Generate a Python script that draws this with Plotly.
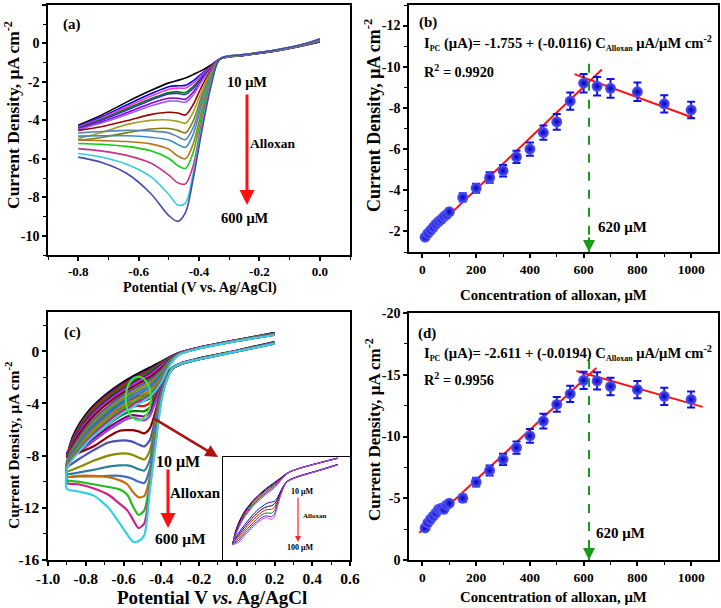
import plotly.graph_objects as go

W, H = 721, 608
def PX(x): return x / W
def PY(y): return 1 - y / H

FONT = "Liberation Serif"

# ---------------- Panel (a) data: cathodic sweeps ----------------
pot_a = [-0.80, -0.72, -0.64, -0.56, -0.50, -0.47, -0.445, -0.42, -0.39, -0.36, -0.33, -0.25, -0.15, -0.05, 0.00]
curves_a = [
    [-4.25, -3.70, -3.05, -2.45, -2.05, -1.92, -1.80, -1.62, -1.40, -1.12, -0.80, -0.62, -0.40, -0.10, 0.08],
    [-4.30, -3.80, -3.20, -2.62, -2.25, -2.20, -2.18, -1.95, -1.55, -1.18, -0.80, -0.61, -0.40, -0.09, 0.10],
    [-4.33, -3.86, -3.30, -2.75, -2.38, -2.32, -2.32, -2.08, -1.62, -1.20, -0.80, -0.61, -0.39, -0.09, 0.11],
    [-4.38, -3.93, -3.40, -2.88, -2.55, -2.52, -2.55, -2.25, -1.72, -1.24, -0.80, -0.61, -0.39, -0.08, 0.12],
    [-4.40, -3.98, -3.47, -2.95, -2.62, -2.60, -2.65, -2.35, -1.78, -1.26, -0.80, -0.61, -0.39, -0.08, 0.13],
    [-4.45, -4.06, -3.60, -3.12, -2.85, -2.85, -2.90, -2.55, -1.88, -1.30, -0.80, -0.60, -0.39, -0.07, 0.14],
    [-4.48, -4.12, -3.70, -3.25, -3.00, -3.00, -3.05, -2.70, -1.95, -1.33, -0.80, -0.60, -0.38, -0.07, 0.15],
    [-4.52, -4.32, -4.02, -3.70, -3.58, -3.62, -3.72, -3.20, -2.20, -1.40, -0.80, -0.60, -0.38, -0.06, 0.16],
    [-4.95, -4.62, -4.22, -4.00, -3.98, -4.05, -4.15, -3.60, -2.45, -1.48, -0.80, -0.60, -0.38, -0.06, 0.17],
    [-5.05, -4.88, -4.65, -4.45, -4.42, -4.52, -4.65, -4.05, -2.70, -1.55, -0.80, -0.59, -0.37, -0.05, 0.18],
    [-4.65, -4.58, -4.52, -4.55, -4.65, -4.85, -5.00, -4.40, -2.90, -1.60, -0.80, -0.59, -0.37, -0.05, 0.19],
    [-4.82, -4.80, -4.80, -4.88, -5.02, -5.25, -5.40, -4.75, -3.10, -1.68, -0.80, -0.59, -0.37, -0.04, 0.20],
    [-5.02, -5.05, -5.10, -5.22, -5.50, -5.85, -6.00, -5.25, -3.40, -1.78, -0.80, -0.58, -0.36, -0.04, 0.21],
    [-5.20, -5.25, -5.35, -5.58, -5.98, -6.35, -6.50, -5.70, -3.65, -1.88, -0.80, -0.58, -0.36, -0.03, 0.22],
    [-5.47, -5.60, -5.82, -6.22, -6.85, -7.25, -7.30, -6.40, -4.00, -2.00, -0.80, -0.58, -0.36, -0.03, 0.23],
    [-5.72, -5.92, -6.28, -6.92, -7.85, -8.40, -8.30, -6.80, -4.30, -2.10, -0.80, -0.58, -0.35, -0.02, 0.24],
    [-5.91, -6.20, -6.75, -7.80, -8.95, -9.25, -8.80, -7.10, -4.50, -2.22, -0.80, -0.58, -0.35, -0.02, 0.25],
]
colors_a = ["#000000", "#0000ff", "#ff33cc", "#008000", "#3333cc", "#8800cc", "#a060ff",
            "#990000", "#a0a020", "#7f7f10", "#5a86b4", "#3a8fbf", "#b8741a", "#11cc11",
            "#cc3388", "#33ccdd", "#4848a8"]

# ---------------- Panel (b) / (d) data ----------------
conc = [10, 20, 30, 40, 50, 60, 70, 80, 90, 100, 150, 200, 250, 300, 350, 400, 450, 500, 550, 600, 650, 700, 800, 900, 1000]
cd_b = [-1.72, -1.90, -2.05, -2.20, -2.35, -2.48, -2.58, -2.72, -2.82, -2.95, -3.65, -4.10, -4.62, -4.95, -5.62, -6.00,
        -6.80, -7.32, -8.33, -9.20, -9.05, -8.95, -8.78, -8.20, -7.90]
err_b = [0.12, 0.12, 0.12, 0.12, 0.12, 0.12, 0.12, 0.12, 0.12, 0.15, 0.20, 0.22, 0.25, 0.28, 0.30, 0.32,
         0.35, 0.38, 0.42, 0.45, 0.45, 0.45, 0.45, 0.42, 0.40]
fit1_b_x = [5, 668]
fit1_b_y = [-1.62, -9.87]
fit2_b_x = [566, 1012]
fit2_b_y = [-9.64, -7.50]

cd_d = [-2.60, -3.00, -3.30, -3.55, -3.80, -4.10, -4.20, -4.10, -4.45, -4.60, -5.00, -6.30, -7.25, -8.15, -9.10, -10.05,
        -11.25, -12.60, -13.45, -14.55, -14.50, -14.05, -13.80, -13.25, -13.00]
err_d = [0.20, 0.20, 0.20, 0.20, 0.20, 0.20, 0.20, 0.20, 0.20, 0.25, 0.30, 0.35, 0.40, 0.45, 0.50, 0.55,
         0.60, 0.60, 0.65, 0.70, 0.70, 0.70, 0.70, 0.70, 0.65]
fit1_d_x = [-12, 647]
fit1_d_y = [-2.20, -15.55]
fit2_d_x = [573, 1043]
fit2_d_y = [-15.30, -12.40]

break_conc = 620
guide_b_y = [-10.15, -1.0]
guide_d_y = [-16.2, 0.0]

# ---------------- Panel (c) data: full CVs ----------------
pot_c_down = [0.20, 0.00, -0.20, -0.30, -0.34, -0.37, -0.40, -0.43, -0.46, -0.49, -0.52, -0.55, -0.58, -0.62, -0.68, -0.76, -0.84, -0.90]
pot_c_up = [-0.897, -0.87, -0.83, -0.78, -0.70, -0.62, -0.54, -0.46, -0.40, -0.35, -0.30, -0.20, 0.00, 0.20]
down_c = [
    [0.70, 0.05, -0.55, -0.95, -1.25, -1.70, -2.30, -2.90, -3.30, -3.40, -3.45, -3.60, -3.80, -4.10, -4.70, -5.70, -6.80, -7.80],
    [0.68, 0.03, -0.57, -0.97, -1.27, -1.75, -2.40, -3.10, -3.60, -3.80, -3.85, -3.95, -4.10, -4.40, -5.00, -5.95, -7.00, -7.85],
    [0.66, 0.02, -0.58, -0.98, -1.28, -1.80, -2.50, -3.30, -3.95, -4.20, -4.20, -4.25, -4.40, -4.70, -5.30, -6.20, -7.20, -7.90],
    [0.65, 0.01, -0.60, -1.00, -1.30, -1.85, -2.60, -3.50, -4.30, -4.60, -4.60, -4.60, -4.70, -5.00, -5.60, -6.45, -7.40, -7.95],
    [0.64, 0.00, -0.60, -1.00, -1.32, -1.90, -2.70, -3.70, -4.65, -5.00, -4.95, -4.90, -5.00, -5.30, -5.85, -6.70, -7.60, -8.00],
    [0.63, 0.00, -0.61, -1.01, -1.33, -1.95, -2.80, -3.90, -4.95, -5.30, -5.20, -5.10, -5.20, -5.50, -6.05, -6.90, -7.80, -8.05],
    [0.62, -0.01, -0.62, -1.02, -1.35, -2.00, -3.00, -4.60, -5.90, -6.30, -6.15, -6.05, -6.05, -6.10, -6.55, -7.30, -7.80, -8.10],
    [0.61, -0.01, -0.62, -1.02, -1.35, -2.00, -3.10, -5.00, -6.80, -7.30, -7.15, -6.95, -6.85, -6.85, -7.00, -7.60, -8.30, -8.85],
    [0.60, -0.02, -0.62, -1.00, -1.33, -2.05, -3.20, -5.40, -7.60, -8.30, -8.15, -7.95, -7.85, -7.85, -8.00, -8.40, -8.90, -9.20],
    [0.60, -0.02, -0.62, -1.00, -1.32, -2.05, -3.30, -5.70, -8.30, -9.15, -9.05, -8.85, -8.75, -8.75, -8.85, -9.10, -9.30, -9.40],
    [0.60, -0.02, -0.62, -0.99, -1.31, -2.10, -3.40, -6.00, -9.00, -10.10, -10.00, -9.80, -9.65, -9.55, -9.55, -9.60, -9.60, -9.60],
    [0.59, -0.02, -0.62, -0.99, -1.30, -2.10, -3.50, -6.30, -9.60, -11.10, -11.20, -10.80, -10.20, -9.90, -9.65, -9.55, -9.55, -9.62],
    [0.59, -0.02, -0.62, -0.99, -1.30, -2.15, -3.60, -6.60, -10.00, -12.20, -12.55, -11.90, -11.00, -10.60, -10.40, -10.20, -10.00, -9.87],
    [0.58, -0.02, -0.62, -0.98, -1.30, -2.15, -3.70, -6.90, -10.30, -13.20, -13.55, -12.90, -12.20, -11.70, -11.00, -10.50, -10.20, -10.10],
    [0.58, -0.02, -0.62, -0.98, -1.30, -2.20, -3.90, -7.20, -10.60, -14.10, -14.55, -14.60, -14.05, -13.20, -12.00, -11.05, -10.75, -10.55],
]
up_c = [
    [-7.80, -6.60, -5.50, -4.50, -3.40, -2.55, -1.85, -1.25, -0.80, -0.40, -0.10, 0.28, 0.85, 1.40],
    [-7.85, -6.70, -5.60, -4.60, -3.50, -2.65, -1.95, -1.35, -0.85, -0.42, -0.10, 0.28, 0.85, 1.38],
    [-7.90, -6.80, -5.70, -4.70, -3.60, -2.75, -2.05, -1.45, -0.90, -0.45, -0.12, 0.26, 0.83, 1.36],
    [-7.95, -6.90, -5.80, -4.85, -3.75, -2.90, -2.20, -1.55, -0.95, -0.47, -0.12, 0.26, 0.83, 1.35],
    [-8.00, -7.00, -5.95, -5.00, -3.90, -3.05, -2.35, -1.70, -1.05, -0.50, -0.13, 0.25, 0.82, 1.34],
    [-8.05, -7.10, -6.10, -5.15, -4.05, -3.20, -2.50, -1.85, -1.15, -0.52, -0.14, 0.25, 0.82, 1.33],
    [-8.10, -7.20, -6.25, -5.30, -4.20, -3.35, -2.65, -2.00, -1.30, -0.55, -0.15, 0.24, 0.81, 1.32],
    [-8.30, -7.40, -6.50, -5.55, -4.45, -3.55, -2.85, -2.20, -1.45, -0.60, -0.16, 0.24, 0.81, 1.31],
    [-8.40, -7.55, -6.70, -5.75, -4.65, -3.75, -3.05, -2.40, -1.60, -0.65, -0.17, 0.23, 0.80, 1.30],
    [-8.50, -7.70, -6.90, -5.95, -4.85, -3.95, -3.25, -2.60, -1.75, -0.70, -0.18, 0.23, 0.80, 1.29],
    [-8.60, -7.85, -7.05, -6.15, -5.05, -4.15, -3.45, -2.80, -1.90, -0.75, -0.19, 0.22, 0.79, 1.28],
    [-8.70, -8.00, -7.20, -6.30, -5.25, -4.35, -3.65, -3.00, -2.05, -0.80, -0.20, 0.22, 0.79, 1.27],
    [-8.80, -8.10, -7.35, -6.50, -5.45, -4.55, -3.85, -3.20, -2.20, -0.85, -0.20, 0.21, 0.78, 1.26],
    [-8.85, -8.20, -7.50, -6.65, -5.60, -4.70, -4.00, -3.35, -2.30, -0.90, -0.21, 0.21, 0.78, 1.25],
    [-8.90, -8.30, -7.60, -6.80, -5.80, -4.90, -4.20, -3.50, -2.40, -0.95, -0.22, 0.20, 0.77, 1.24],
]
colors_c = ["#000000", "#1a1a80", "#e01010", "#008000", "#800080", "#9a40e0",
            "#8b0000", "#4b50b0", "#8a8a00", "#2a7f9f", "#3f6fbf", "#c07010", "#22bb22", "#cc2288", "#33d0e0"]
inset_idx = [0, 1, 2, 3, 4, 5]  # 10-100 uM curves shown in the inset
inset_colors = ["#0000ff", "#000000", "#ff0000", "#008000", "#8000c0", "#b050ff"]

# ---------------- tick labels ----------------
a_xt = [-0.8, -0.6, -0.4, -0.2, 0.0]; a_xl = ["-0.8", "-0.6", "-0.4", "-0.2", "0.0"]
a_xm = [-0.9, -0.7, -0.5, -0.3, -0.1, 0.1]
a_yt = [2, 0, -2, -4, -6, -8, -10]; a_yl = ["2", "0", "-2", "-4", "-6", "-8", "-10"]
a_ym = [1, -1, -3, -5, -7, -9, -11]
b_xt = [0, 200, 400, 600, 800, 1000]; b_xl = ["0", "200", "400", "600", "800", "1000"]
b_xm = [100, 300, 500, 700, 900]
b_yt = [-12, -10, -8, -6, -4, -2]; b_yl = ["-12", "-10", "-8", "-6", "-4", "-2"]
b_ym = [-13, -11, -9, -7, -5, -3, -1]
c_xt = [-1.0, -0.8, -0.6, -0.4, -0.2, 0.0, 0.2, 0.4, 0.6]
c_xl = ["-1.0", "-0.8", "-0.6", "-0.4", "-0.2", "0.0", "0.2", "0.4", "0.6"]
c_xm = [-0.9, -0.7, -0.5, -0.3, -0.1, 0.1, 0.3, 0.5]
c_yt = [0, -4, -8, -12, -16]; c_yl = ["0", "-4", "-8", "-12", "-16"]
c_ym = [2, -2, -6, -10, -14]
d_yt = [0, -5, -10, -15, -20]; d_yl = ["0", "-5", "-10", "-15", "-20"]
d_ym = [-2.5, -7.5, -12.5, -17.5]

fig = go.Figure()

# panel a
for ys, col in zip(curves_a, colors_a):
    fig.add_trace(go.Scatter(x=pot_a, y=ys, mode="lines", line=dict(color=col, width=1.6, shape="spline", smoothing=0.9),
                             xaxis="x", yaxis="y", hoverinfo="skip"))

# panel c
for dn, up, col in zip(down_c, up_c, colors_c):
    fig.add_trace(go.Scatter(x=pot_c_down + pot_c_up, y=dn + up, mode="lines",
                             line=dict(color=col, width=2.2, shape="spline", smoothing=0.7),
                             xaxis="x3", yaxis="y3", hoverinfo="skip"))

# inset
for i, col in zip(inset_idx, inset_colors):
    fig.add_trace(go.Scatter(x=pot_c_down + pot_c_up, y=down_c[i] + up_c[i], mode="lines",
                             line=dict(color=col, width=1.0, shape="spline", smoothing=0.7),
                             xaxis="x5", yaxis="y5", hoverinfo="skip"))

def calib(xa, ya, ys, errs, f1x, f1y, f2x, f2y):
    fig.add_trace(go.Scatter(x=f1x, y=f1y, mode="lines", line=dict(color="#ff1010", width=2), xaxis=xa, yaxis=ya))
    fig.add_trace(go.Scatter(x=f2x, y=f2y, mode="lines", line=dict(color="#ff1010", width=2), xaxis=xa, yaxis=ya))
    fig.add_trace(go.Scatter(x=conc, y=ys, mode="markers", xaxis=xa, yaxis=ya,
                             error_y=dict(type="data", array=errs, color="#1010e0", thickness=2, width=4),
                             marker=dict(size=11, color="#5a5aff",
                                         gradient=dict(type="radial", color="#0000b4"),
                                         line=dict(width=0))))

calib("x2", "y2", cd_b, err_b, fit1_b_x, fit1_b_y, fit2_b_x, fit2_b_y)
calib("x4", "y4", cd_d, err_d, fit1_d_x, fit1_d_y, fit2_d_x, fit2_d_y)

# green dashed guide lines
for xa, ya, gy in (("x2", "y2", guide_b_y), ("x4", "y4", guide_d_y)):
    fig.add_trace(go.Scatter(x=[break_conc, break_conc], y=gy, mode="lines",
                             line=dict(color="#1a9a1a", width=2, dash="dash"), xaxis=xa, yaxis=ya))

def ax(domain, rng, tv, tt, mv, anchor, tsize=14):
    return dict(domain=domain, range=rng, anchor=anchor,
                tickmode="array", tickvals=tv, ticktext=tt,
                ticks="outside", ticklen=4, tickwidth=1.5, tickcolor="black",
                showline=True, linewidth=1.5, linecolor="black", mirror=True,
                showgrid=False, zeroline=False, automargin=False,
                tickfont=dict(family=FONT, size=tsize, color="black", weight="bold"),
                minor=dict(tickmode="array", tickvals=mv, ticks="outside", ticklen=3, tickwidth=1.2,
                           tickcolor="black", showgrid=False))

xa_dom = [PX(48), PX(350)]
xb_dom = [PX(409), PX(718)]

layout = dict(
    width=W, height=H, margin=dict(l=0, r=0, t=0, b=0),
    paper_bgcolor="white", plot_bgcolor="white", showlegend=False,
    xaxis=ax(xa_dom, [-0.9, 0.1], a_xt, a_xl, a_xm, "y", 13),
    yaxis=ax([PY(255), PY(5)], [-11, 2], a_yt, a_yl, a_ym, "x", 14),
    xaxis2=ax(xb_dom, [-50, 1100], b_xt, b_xl, b_xm, "y2", 13.5),
    yaxis2=ax([PY(252), PY(5)], [-1, -13], b_yt, b_yl, b_ym, "x2", 14),
    xaxis3=ax(xa_dom, [-1.0, 0.6], c_xt, c_xl, c_xm, "y3", 15.5),
    yaxis3=ax([PY(560), PY(312)], [-16, 3], c_yt, c_yl, c_ym, "x3", 15.5),
    xaxis4=ax(xb_dom, [-50, 1100], b_xt, b_xl, b_xm, "y4", 13.5),
    yaxis4=ax([PY(560), PY(313)], [0, -20], d_yt, d_yl, d_ym, "x4", 14),
    xaxis5=dict(domain=[PX(223), PX(350)], range=[-1.0, 0.33], anchor="y5", showticklabels=False, ticks="",
                showline=True, linewidth=1.2, linecolor="black", mirror=True, showgrid=False, zeroline=False),
    yaxis5=dict(domain=[PY(560), PY(457)], range=[-9.7, 1.5], anchor="x5", showticklabels=False, ticks="",
                showline=True, linewidth=1.2, linecolor="black", mirror=True, showgrid=False, zeroline=False),
)
fig.update_layout(**layout)

def txt(x, y, s, size=15, xanchor="center", angle=0):
    fig.add_annotation(x=PX(x), y=PY(y), xref="paper", yref="paper", text="<b>%s</b>" % s, showarrow=False,
                       xanchor=xanchor, yanchor="middle", textangle=angle, borderpad=0,
                       font=dict(family=FONT, size=size, color="black"))

def arrow(xh, yh, dx, dy, color, width=3, size=1.0, head=2):
    fig.add_annotation(x=PX(xh), y=PY(yh), xref="paper", yref="paper", ax=dx, ay=dy, text="",
                       showarrow=True, arrowhead=head, arrowsize=size, arrowwidth=width, arrowcolor=color)

SUBS = '<sub><span style="font-size:8px">%s</span></sub>'
ytitle = "Current Density, μA cm<sup>-2</sup>"

# axis titles
txt(200, 288, "Potential (V vs. Ag/AgCl)", size=14.3)
txt(12, 115, ytitle, size=17.5, angle=-90)
txt(553, 295, "Concentration of alloxan, μM", size=14.8)
txt(373, 116, ytitle, size=18, angle=-90)
txt(212, 597, "Potential V <i>vs.</i> Ag/AgCl", size=19)
txt(12, 445, ytitle, size=15.6, angle=-90)
txt(553, 597, "Concentration of alloxan, μM", size=14.8)
txt(373, 430, ytitle, size=17, angle=-90)

# panel labels
txt(72, 24, "(a)"); txt(428, 23, "(b)"); txt(72, 332, "(c)"); txt(427, 333, "(d)")

# panel a annotations
txt(247, 82, "10 μM", size=14.5)
arrow(247, 205, 0, -112, "#ff1010", width=3, size=1.0)
txt(273, 143, "Alloxan", size=13.5)
txt(245, 218, "600 μM", size=14.5)

# panel b
eq_b = "I" + SUBS % "PC" + " (μA)= -1.755 + (-0.0116) C" + SUBS % "Alloxan" + " μA/μM cm<sup>-2</sup>"
txt(423, 43, eq_b, size=14.6, xanchor="left")
txt(423, 71, "R<sup>2</sup> = 0.9920", size=14.3, xanchor="left")
txt(597, 227, "620 μM", size=15, xanchor="left")
fig.add_annotation(x=break_conc, y=guide_b_y[1], xref="x2", yref="y2", ax=0, ay=-16, text="", showarrow=True,
                   arrowhead=2, arrowsize=1.2, arrowwidth=2, arrowcolor="#1a9a1a")

# panel d
eq_d = "I" + SUBS % "PC" + " (μA)= -2.611 + (-0.0194) C" + SUBS % "Alloxan" + " μA/μM cm<sup>-2</sup>"
txt(423, 353, eq_d, size=14.6, xanchor="left")
txt(423, 379, "R<sup>2</sup> = 0.9956", size=14.3, xanchor="left")
txt(595, 533, "620 μM", size=15, xanchor="left")
fig.add_annotation(x=break_conc, y=guide_d_y[1], xref="x4", yref="y4", ax=0, ay=-16, text="", showarrow=True,
                   arrowhead=2, arrowsize=1.2, arrowwidth=2, arrowcolor="#1a9a1a")

# panel c annotations
fig.add_shape(type="circle", xref="x3", yref="y3", x0=-0.588, x1=-0.455, y0=-5.28, y1=-1.96,
              line=dict(color="#33ee33", width=2))
arrow(218, 457, -65, -39, "#b01010", width=2.5, size=1.0)
txt(178, 462, "10 μM", size=16)
arrow(168, 528, 0, -60, "#ff1010", width=3, size=1.0)
txt(195, 493, "Alloxan", size=15)
txt(180, 538, "600 μM", size=15.5)

# inset annotations
txt(302, 491, "10 μM", size=8)
arrow(298, 542, 0, -46, "#ff2020", width=1.2, size=1.0)
txt(314, 516, "Alloxan", size=7)
txt(300, 547, "100 μM", size=8)

# the page is shown without the default body margin so the figure fills the window
fig.write_html("out.html", config={"displayModeBar": False},
               post_script="document.body.style.margin='0px';")
